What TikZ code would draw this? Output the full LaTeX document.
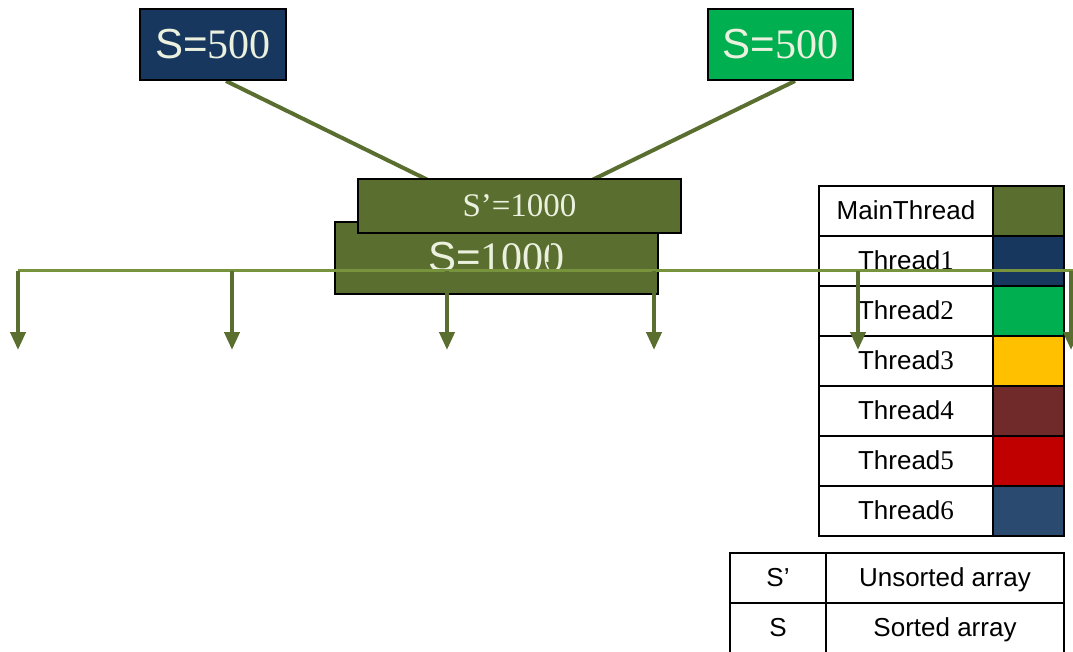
\documentclass[tikz,border=0pt]{standalone}
\usepackage{fontspec}
\setmainfont{Liberation Serif}
\newfontfamily\sansf{Liberation Sans}
\usetikzlibrary{arrows.meta,backgrounds}

\definecolor{olive}{HTML}{5A6E2F}
\definecolor{barolive}{HTML}{77933C}
\definecolor{navy}{HTML}{17375E}
\definecolor{brightgreen}{HTML}{00B050}
\definecolor{amber}{HTML}{FFC000}
\definecolor{maroon}{HTML}{702A2A}
\definecolor{deepred}{HTML}{C00000}
\definecolor{steel}{HTML}{2A4A6F}
\definecolor{cream}{HTML}{EBF1DE}

\tikzset{
  arraybox/.style={draw=black, line width=2pt, inner sep=0pt, text=cream, align=center},
  feed/.style={draw=olive, line width=4pt},
  branch/.style={draw=olive, line width=4pt, -{Triangle[width=15pt,length=18pt]}},
  trunk/.style={draw=barolive, line width=3pt},
  cell/.style={draw=black, line width=2pt, inner sep=0pt, minimum height=50pt,
    text height=18pt, text depth=1pt, font=\sansf\fontsize{26}{28}\selectfont},
  swatch/.style={cell, minimum width=71pt},
  namecell/.style={cell, minimum width=174pt},
}

\newcommand{\thr}[1]{{\sansf Thread}{\rmfamily\fontsize{27}{29}\selectfont #1}}

\begin{document}
\begin{tikzpicture}[x=1pt,y=-1pt]
\useasboundingbox (0,0) rectangle (1073,652);
\clip (0,0) rectangle (1073,652);

% the two sorted halves
\node[arraybox, fill=navy, minimum width=146pt, minimum height=71pt] (half1) at (213,44.5)
  {\fontsize{42}{44}\selectfont{\sansf S=}500};
\node[arraybox, fill=brightgreen, minimum width=145pt, minimum height=71pt] (half2) at (780.5,44.5)
  {\fontsize{42}{44}\selectfont{\sansf S=}500};

% merged array and the unsorted array of the main thread
\node[arraybox, fill=olive, minimum width=323pt, minimum height=72pt] (sorted) at (496.5,258)
  {\raisebox{2pt}{\fontsize{42}{44}\selectfont{\sansf S=}1000}};
\node[arraybox, fill=olive, minimum width=323pt, minimum height=54pt] (unsorted) at (519.5,206)
  {\fontsize{33}{35}\selectfont S’=1000};

% halves feeding the merge, kept behind the boxes
\begin{scope}[on background layer]
  \draw[feed] ([xshift=13pt]half1.south) -- ([xshift=-89.5pt,yshift=-3pt]unsorted.north);
  \draw[feed] ([xshift=14.5pt]half2.south) -- ([xshift=70.5pt,yshift=-3pt]unsorted.north);
\end{scope}

% legend of threads
\node[namecell] (n0) at (906,211) {MainThread};
\node[swatch, fill=olive] (c0) at (1028.5,211) {};
\node[namecell] (n1) at (906,261) {\thr{1}};
\node[swatch, fill=navy] (c1) at (1028.5,261) {};
\node[namecell] (n2) at (906,311) {\thr{2}};
\node[swatch, fill=brightgreen] (c2) at (1028.5,311) {};
\node[namecell] (n3) at (906,361) {\thr{3}};
\node[swatch, fill=amber] (c3) at (1028.5,361) {};
\node[namecell] (n4) at (906,411) {\thr{4}};
\node[swatch, fill=maroon] (c4) at (1028.5,411) {};
\node[namecell] (n5) at (906,461) {\thr{5}};
\node[swatch, fill=deepred] (c5) at (1028.5,461) {};
\node[namecell] (n6) at (906,511) {\thr{6}};
\node[swatch, fill=steel] (c6) at (1028.5,511) {};

% legend of symbols
\node[cell, minimum width=96pt] (k1) at (778,578) {S’};
\node[cell, minimum width=238pt] (v1) at (945,578) {Unsorted array};
\node[cell, minimum width=96pt] (k2) at (778,627.5) {S};
\node[cell, minimum width=238pt] (v2) at (945,627.5) {Sorted array};

% split into six threads
\coordinate (busL) at (18,271);
\coordinate (busR) at (1080,271);
\draw[draw=olive, line width=2pt, -{Triangle[width=7pt,length=9pt]}]
  ([xshift=30.5pt]unsorted.south) -- ([xshift=30.5pt]unsorted.south |- busL);
\draw[trunk] (busR) -- (busL);
\foreach \x/\name in {18/t1, 232/t2, 447/t3, 654/t4, 858/t5, 1071/t6} {
  \coordinate (\name) at (\x,350);
  \draw[branch] (busL -| \name) -- (\name);
}
\end{tikzpicture}
\end{document}
